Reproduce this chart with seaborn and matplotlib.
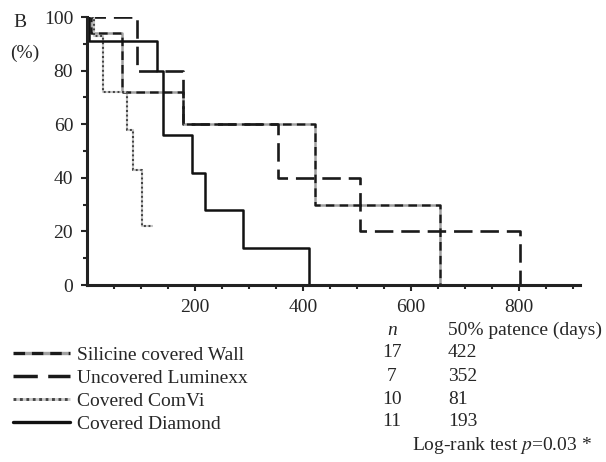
import numpy as np
import pandas as pd
import matplotlib
matplotlib.use('Agg')
import matplotlib.pyplot as plt
import matplotlib.ticker as mticker
from matplotlib.lines import Line2D
import seaborn as sns

sns.set_style('ticks')
plt.rcParams['font.family'] = ['Liberation Serif', 'DejaVu Serif']
plt.rcParams['mathtext.fontset'] = 'stix'

# ── Kaplan-Meier step points (days, % patent) ──
wall_days = [0, 8, 65, 178, 422, 654]
wall_pct = [100, 94, 72, 60, 30, 0]
lumi_days = [0, 92, 178, 354, 505, 802]
lumi_pct = [100, 80, 60, 40, 20, 0]
comvi_days = [0, 12, 30, 74, 85, 102, 122]
comvi_pct = [100, 93, 72, 58, 43, 22, 22]
diam_days = [0, 3, 130, 141, 194, 218, 289, 411]
diam_pct = [100, 91, 80, 56, 42, 28, 14, 0]

groups = ['Silicine covered Wall', 'Uncovered Luminexx', 'Covered ComVi', 'Covered Diamond']
n_pts = [17, 7, 10, 11]
median_days = [422, 352, 81, 193]
logrank_p = 0.03

series = {
    'Silicine covered Wall': (wall_days, wall_pct),
    'Uncovered Luminexx': (lumi_days, lumi_pct),
    'Covered ComVi': (comvi_days, comvi_pct),
    'Covered Diamond': (diam_days, diam_pct),
}
styles = {
    'Silicine covered Wall': dict(color='#1a1a1a', lw=1.8, dashes=(3.5, 2), gapcolor='#a0a0a0'),
    'Uncovered Luminexx': dict(color='#1a1a1a', lw=1.9, dashes=(7, 3)),
    'Covered ComVi': dict(color='#444444', lw=1.5, dashes=(1, 1.2), gapcolor='#c8c8c8'),
    'Covered Diamond': dict(color='#111111', lw=1.8),
}

df = pd.concat([pd.DataFrame({'days': d, 'pct': p, 'group': g})
                for g, (d, p) in series.items()], ignore_index=True)

fig = plt.figure(figsize=(6.06, 4.62), dpi=100)
ax = fig.add_axes([0.1436, 0.383, 0.8135, 0.580])

for g in groups:
    sub = df[df['group'] == g]
    st = dict(styles[g])
    dashes = st.pop('dashes', None)
    gapcolor = st.pop('gapcolor', None)
    sns.lineplot(data=sub, x='days', y='pct', ax=ax, estimator=None, sort=False,
                 drawstyle='steps-post', **st)
    line = ax.lines[-1]
    if dashes is not None:
        line.set_dashes(dashes)
    if gapcolor is not None:
        line.set_gapcolor(gapcolor)

ax.set_xlim(0, 913)
ax.set_ylim(0, 100)
ax.set_xlabel('')
ax.set_ylabel('')
ax.xaxis.set_major_locator(mticker.FixedLocator([200, 400, 600, 800]))
ax.xaxis.set_minor_locator(mticker.FixedLocator([50, 100, 150, 250, 300, 350, 450, 500,
                                                  550, 650, 700, 750, 850, 900]))
ax.yaxis.set_major_locator(mticker.MultipleLocator(20))
ax.yaxis.set_minor_locator(mticker.MultipleLocator(10))
ax.tick_params(axis='both', which='major', labelsize=14, length=4, width=1.5, pad=6)
ax.tick_params(axis='both', which='minor', length=3, width=1.5)
for s in ['top', 'right']:
    ax.spines[s].set_visible(False)
for s in ['left', 'bottom']:
    ax.spines[s].set_linewidth(2.2)
    ax.spines[s].set_color('#222222')

fig.text(0.033, 0.952, 'B', fontsize=14, ha='center', va='center')
fig.text(0.041, 0.885, '(%)', fontsize=14, ha='center', va='center')

# ── legend table ──
handles = []
for g in groups:
    st = styles[g]
    h = Line2D([], [], color=st['color'], lw=st['lw'] + 0.6)
    if 'dashes' in st:
        h.set_dashes(st['dashes'])
    if 'gapcolor' in st:
        h.set_gapcolor(st['gapcolor'])
    handles.append(h)
fig.legend(handles, groups, loc='upper left', bbox_to_anchor=(0.021, 0.251),
           frameon=False, fontsize=14, handlelength=2.95, handletextpad=0.35,
           labelspacing=0.28, borderaxespad=0, borderpad=0)

row_y = [0.236, 0.186, 0.136, 0.087]
fig.text(0.647, 0.284, 'n', fontsize=14, style='italic', ha='center', va='center')
fig.text(0.739, 0.284, '50% patence (days)', fontsize=14, ha='left', va='center')
for y, n, m in zip(row_y, n_pts, median_days):
    fig.text(0.647, y, str(n), fontsize=14, ha='center', va='center')
    fig.text(0.739, y, str(m), fontsize=14, ha='left', va='center')
fig.text(0.680, 0.035, f'Log-rank test $p$={logrank_p:.2f} *', fontsize=14,
         ha='left', va='center')

fig.savefig('out.png', dpi=100)
